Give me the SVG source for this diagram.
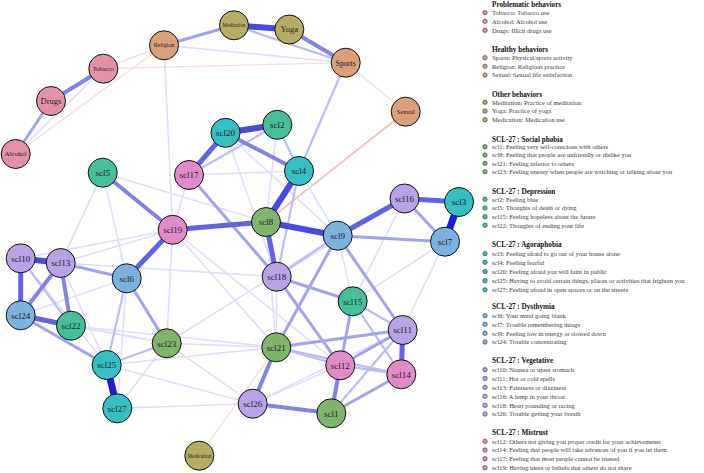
<svg xmlns="http://www.w3.org/2000/svg" width="704" height="473" viewBox="0 0 704 473">
<style>
.e1{stroke:#1a1ade;stroke-width:7}
.e2{stroke:#4848e2;stroke-width:6}
.e3{stroke:#6262e6;stroke-width:5}
.e4{stroke:#8282eb;stroke-width:4}
.e5{stroke:#a2a2f1;stroke-width:3}
.e6{stroke:#bcbcf5;stroke-width:2.2}
.e7{stroke:#dedefa;stroke-width:1.6}
.r1{stroke:#f2c2c2;stroke-width:1.8}
.r2{stroke:#f7dada;stroke-width:1.3}
line{stroke-linecap:butt;fill:none}
.n circle{stroke:#111;stroke-width:1}
.n text{font-family:"Liberation Serif",serif;fill:#222;text-anchor:middle}
.prob{fill:#e391a6}.heal{fill:#dba07a}.oth{fill:#b4ad62}
.soc{fill:#7db56a}.dep{fill:#45bf9a}.ago{fill:#35bfc4}
.dys{fill:#7ab2e0}.veg{fill:#b9a2e6}.mis{fill:#e18bcb}
.lg text{font-family:"Liberation Serif",serif;font-size:6.5px;fill:#3a3a3a}
.lg text.t{font-weight:bold;font-size:7.2px;fill:#111}
.lg circle{stroke:#333;stroke-width:0.6}
</style>
<rect width="704" height="473" fill="#fff"/>
<g id="edges">
<line class="r2" x1="164" y1="45.3" x2="103.3" y2="68.7"/>
<line class="r2" x1="164" y1="45.3" x2="15.7" y2="154"/>
<line class="r2" x1="103.3" y1="68.7" x2="345.7" y2="62.7"/>
<line class="r2" x1="345.7" y1="62.7" x2="405.7" y2="111.7"/>
<line class="r1" x1="405.7" y1="111.7" x2="266" y2="222"/>
<line class="r2" x1="199.3" y1="455.7" x2="276.3" y2="347.3"/>
<line class="e7" x1="164" y1="45.3" x2="345.7" y2="62.7"/>
<line class="e6" x1="234" y1="25.3" x2="345.7" y2="62.7"/>
<line class="e7" x1="103.3" y1="68.7" x2="15.7" y2="154"/>
<line class="e7" x1="164" y1="45.3" x2="172.7" y2="229.8"/>
<line class="e6" x1="345.7" y1="62.7" x2="299" y2="171"/>
<line class="e5" x1="234" y1="25.3" x2="164" y2="45.3"/>
<line class="e2" x1="234" y1="25.3" x2="289.3" y2="29.5"/>
<line class="e4" x1="289.3" y1="29.5" x2="345.7" y2="62.7"/>
<line class="e4" x1="103.3" y1="68.7" x2="51" y2="101"/>
<line class="e5" x1="51" y1="101" x2="15.7" y2="154"/>
<line class="e7" x1="189" y1="175" x2="299" y2="171"/>
<line class="e7" x1="225.5" y1="132.8" x2="276.7" y2="276.7"/>
<line class="e7" x1="189" y1="175" x2="172.7" y2="229.8"/>
<line class="e7" x1="172.7" y1="229.8" x2="60.7" y2="263"/>
<line class="e7" x1="172.7" y1="229.8" x2="166.7" y2="343.3"/>
<line class="e7" x1="126.7" y1="278.3" x2="117.3" y2="408.3"/>
<line class="e7" x1="117.3" y1="408.3" x2="252.7" y2="403.7"/>
<line class="e7" x1="106.7" y1="365" x2="252.7" y2="403.7"/>
<line class="e7" x1="166.7" y1="343.3" x2="276.3" y2="347.3"/>
<line class="e7" x1="166.7" y1="343.3" x2="337.7" y2="235.7"/>
<line class="e7" x1="71" y1="325.7" x2="166.7" y2="343.3"/>
<line class="e7" x1="20.7" y1="315.3" x2="166.7" y2="343.3"/>
<line class="e7" x1="60.7" y1="263" x2="106.7" y2="365"/>
<line class="e7" x1="20.7" y1="258.3" x2="106.7" y2="365"/>
<line class="e7" x1="102.7" y1="172.7" x2="60.7" y2="263"/>
<line class="e7" x1="102.7" y1="172.7" x2="266" y2="222"/>
<line class="e7" x1="102.7" y1="172.7" x2="126.7" y2="278.3"/>
<line class="e7" x1="172.7" y1="229.8" x2="276.3" y2="347.3"/>
<line class="e7" x1="172.7" y1="229.8" x2="340.3" y2="365.3"/>
<line class="e7" x1="266" y1="222" x2="276.3" y2="347.3"/>
<line class="e7" x1="276.7" y1="276.7" x2="276.3" y2="347.3"/>
<line class="e7" x1="337.7" y1="235.7" x2="352.7" y2="301.3"/>
<line class="e7" x1="404.5" y1="198.5" x2="352.7" y2="301.3"/>
<line class="e7" x1="445" y1="241.7" x2="352.7" y2="301.3"/>
<line class="e7" x1="445" y1="241.7" x2="402.7" y2="330"/>
<line class="e7" x1="404.5" y1="198.5" x2="276.7" y2="276.7"/>
<line class="e7" x1="299" y1="171" x2="337.7" y2="235.7"/>
<line class="e7" x1="277.3" y1="124.8" x2="266" y2="222"/>
<line class="e7" x1="225.5" y1="132.8" x2="337.7" y2="235.7"/>
<line class="e7" x1="252.7" y1="403.7" x2="340.3" y2="365.3"/>
<line class="e7" x1="252.7" y1="403.7" x2="402.7" y2="330"/>
<line class="e7" x1="166.7" y1="343.3" x2="252.7" y2="403.7"/>
<line class="e7" x1="106.7" y1="365" x2="276.3" y2="347.3"/>
<line class="e7" x1="60.7" y1="263" x2="276.7" y2="276.7"/>
<line class="e7" x1="20.7" y1="258.3" x2="172.7" y2="229.8"/>
<line class="e7" x1="20.7" y1="315.3" x2="126.7" y2="278.3"/>
<line class="e7" x1="71" y1="325.7" x2="276.3" y2="347.3"/>
<line class="e7" x1="117.3" y1="408.3" x2="166.7" y2="343.3"/>
<line class="e6" x1="126.7" y1="278.3" x2="106.7" y2="365"/>
<line class="e6" x1="20.7" y1="258.3" x2="71" y2="325.7"/>
<line class="e6" x1="106.7" y1="365" x2="166.7" y2="343.3"/>
<line class="e6" x1="277.3" y1="124.8" x2="299" y2="171"/>
<line class="e6" x1="277.3" y1="124.8" x2="189" y2="175"/>
<line class="e6" x1="337.7" y1="235.7" x2="276.7" y2="276.7"/>
<line class="e6" x1="340.3" y1="365.3" x2="401.3" y2="374.3"/>
<line class="e6" x1="331.3" y1="413.3" x2="402.7" y2="330"/>
<line class="e6" x1="352.7" y1="301.3" x2="401.3" y2="374.3"/>
<line class="e6" x1="352.7" y1="301.3" x2="402.7" y2="330"/>
<line class="e6" x1="299" y1="171" x2="276.7" y2="276.7"/>
<line class="e6" x1="276.3" y1="347.3" x2="340.3" y2="365.3"/>
<line class="e6" x1="276.3" y1="347.3" x2="401.3" y2="374.3"/>
<line class="e5" x1="276.3" y1="347.3" x2="337.7" y2="235.7"/>
<line class="e5" x1="276.7" y1="276.7" x2="340.3" y2="365.3"/>
<line class="e5" x1="337.7" y1="235.7" x2="402.7" y2="330"/>
<line class="e5" x1="189" y1="175" x2="276.7" y2="276.7"/>
<line class="e5" x1="276.7" y1="276.7" x2="352.7" y2="301.3"/>
<line class="e5" x1="352.7" y1="301.3" x2="340.3" y2="365.3"/>
<line class="e5" x1="340.3" y1="365.3" x2="402.7" y2="330"/>
<line class="e5" x1="331.3" y1="413.3" x2="401.3" y2="374.3"/>
<line class="e5" x1="276.3" y1="347.3" x2="402.7" y2="330"/>
<line class="e5" x1="60.7" y1="263" x2="126.7" y2="278.3"/>
<line class="e5" x1="126.7" y1="278.3" x2="166.7" y2="343.3"/>
<line class="e5" x1="20.7" y1="315.3" x2="106.7" y2="365"/>
<line class="e5" x1="337.7" y1="235.7" x2="445" y2="241.7"/>
<line class="e5" x1="404.5" y1="198.5" x2="445" y2="241.7"/>
<line class="e4" x1="102.7" y1="172.7" x2="172.7" y2="229.8"/>
<line class="e4" x1="225.5" y1="132.8" x2="299" y2="171"/>
<line class="e4" x1="60.7" y1="263" x2="20.7" y2="315.3"/>
<line class="e4" x1="60.7" y1="263" x2="71" y2="325.7"/>
<line class="e4" x1="276.3" y1="347.3" x2="252.7" y2="403.7"/>
<line class="e4" x1="252.7" y1="403.7" x2="331.3" y2="413.3"/>
<line class="e4" x1="340.3" y1="365.3" x2="331.3" y2="413.3"/>
<line class="e3" x1="337.7" y1="235.7" x2="404.5" y2="198.5"/>
<line class="e3" x1="225.5" y1="132.8" x2="189" y2="175"/>
<line class="e3" x1="266" y1="222" x2="172.7" y2="229.8"/>
<line class="e3" x1="266" y1="222" x2="276.7" y2="276.7"/>
<line class="e3" x1="172.7" y1="229.8" x2="126.7" y2="278.3"/>
<line class="e3" x1="20.7" y1="258.3" x2="20.7" y2="315.3"/>
<line class="e3" x1="20.7" y1="315.3" x2="71" y2="325.7"/>
<line class="e3" x1="402.7" y1="330" x2="401.3" y2="374.3"/>
<line class="e3" x1="404.5" y1="198.5" x2="459" y2="202"/>
<line class="e2" x1="225.5" y1="132.8" x2="277.3" y2="124.8"/>
<line class="e2" x1="299" y1="171" x2="266" y2="222"/>
<line class="e2" x1="266" y1="222" x2="337.7" y2="235.7"/>
<line class="e2" x1="20.7" y1="258.3" x2="60.7" y2="263"/>
<line class="e1" x1="459" y1="202" x2="445" y2="241.7"/>
<line class="e1" x1="106.7" y1="365" x2="117.3" y2="408.3"/>
</g>
<g id="nodes" class="n">
<g id="n-meditation"><circle class="oth" cx="234" cy="25.3" r="14.5"/><text x="234" y="27.1" font-size="5.2">Meditation</text></g>
<g id="n-yoga"><circle class="oth" cx="289.3" cy="29.5" r="14.5"/><text x="289.3" y="32.4" font-size="8.5">Yoga</text></g>
<g id="n-religion"><circle class="heal" cx="164" cy="45.3" r="14.5"/><text x="164" y="47.4" font-size="5.9">Religion</text></g>
<g id="n-sports"><circle class="heal" cx="345.7" cy="62.7" r="14.5"/><text x="345.7" y="65.5" font-size="8">Sports</text></g>
<g id="n-sexual"><circle class="heal" cx="405.7" cy="111.7" r="14.5"/><text x="405.7" y="113.9" font-size="6.5">Sexual</text></g>
<g id="n-tobacco"><circle class="prob" cx="103.3" cy="68.7" r="14.5"/><text x="103.3" y="70.9" font-size="6.3">Tobacco</text></g>
<g id="n-drugs"><circle class="prob" cx="51" cy="101" r="14.5"/><text x="51" y="104" font-size="8.5">Drugs</text></g>
<g id="n-alcohol"><circle class="prob" cx="15.7" cy="154" r="14.5"/><text x="15.7" y="156.3" font-size="6.8">Alcohol</text></g>
<g id="n-medication"><circle class="oth" cx="199.3" cy="455.7" r="14.5"/><text x="199.3" y="457.5" font-size="5.2">Medication</text></g>
<g id="n-scl20"><circle class="ago" cx="225.5" cy="132.8" r="14.5"/><text x="225.5" y="136" font-size="9">scl20</text></g>
<g id="n-scl2"><circle class="dep" cx="277.3" cy="124.8" r="14.5"/><text x="277.3" y="128" font-size="9">scl2</text></g>
<g id="n-scl17"><circle class="mis" cx="189" cy="175" r="14.5"/><text x="189" y="178.2" font-size="9">scl17</text></g>
<g id="n-scl4"><circle class="ago" cx="299" cy="171" r="14.5"/><text x="299" y="174.2" font-size="9">scl4</text></g>
<g id="n-scl5"><circle class="dep" cx="102.7" cy="172.7" r="14.5"/><text x="102.7" y="175.9" font-size="9">scl5</text></g>
<g id="n-scl8"><circle class="soc" cx="266" cy="222" r="14.5"/><text x="266" y="225.2" font-size="9">scl8</text></g>
<g id="n-scl19"><circle class="mis" cx="172.7" cy="229.8" r="14.5"/><text x="172.7" y="233" font-size="9">scl19</text></g>
<g id="n-scl9"><circle class="dys" cx="337.7" cy="235.7" r="14.5"/><text x="337.7" y="238.9" font-size="9">scl9</text></g>
<g id="n-scl16"><circle class="veg" cx="404.5" cy="198.5" r="14.5"/><text x="404.5" y="201.7" font-size="9">scl16</text></g>
<g id="n-scl3"><circle class="ago" cx="459" cy="202" r="14.5"/><text x="459" y="205.2" font-size="9">scl3</text></g>
<g id="n-scl7"><circle class="dys" cx="445" cy="241.7" r="14.5"/><text x="445" y="244.9" font-size="9">scl7</text></g>
<g id="n-scl10"><circle class="veg" cx="20.7" cy="258.3" r="14.5"/><text x="20.7" y="261.5" font-size="9">scl10</text></g>
<g id="n-scl13"><circle class="veg" cx="60.7" cy="263" r="14.5"/><text x="60.7" y="266.2" font-size="9">scl13</text></g>
<g id="n-scl6"><circle class="dys" cx="126.7" cy="278.3" r="14.5"/><text x="126.7" y="281.5" font-size="9">scl6</text></g>
<g id="n-scl18"><circle class="veg" cx="276.7" cy="276.7" r="14.5"/><text x="276.7" y="279.9" font-size="9">scl18</text></g>
<g id="n-scl15"><circle class="dep" cx="352.7" cy="301.3" r="14.5"/><text x="352.7" y="304.5" font-size="9">scl15</text></g>
<g id="n-scl24"><circle class="dys" cx="20.7" cy="315.3" r="14.5"/><text x="20.7" y="318.5" font-size="9">scl24</text></g>
<g id="n-scl22"><circle class="dep" cx="71" cy="325.7" r="14.5"/><text x="71" y="328.9" font-size="9">scl22</text></g>
<g id="n-scl23"><circle class="soc" cx="166.7" cy="343.3" r="14.5"/><text x="166.7" y="346.5" font-size="9">scl23</text></g>
<g id="n-scl21"><circle class="soc" cx="276.3" cy="347.3" r="14.5"/><text x="276.3" y="350.5" font-size="9">scl21</text></g>
<g id="n-scl11"><circle class="veg" cx="402.7" cy="330" r="14.5"/><text x="402.7" y="333.2" font-size="9">scl11</text></g>
<g id="n-scl12"><circle class="mis" cx="340.3" cy="365.3" r="14.5"/><text x="340.3" y="368.5" font-size="9">scl12</text></g>
<g id="n-scl14"><circle class="mis" cx="401.3" cy="374.3" r="14.5"/><text x="401.3" y="377.5" font-size="9">scl14</text></g>
<g id="n-scl25"><circle class="ago" cx="106.7" cy="365" r="14.5"/><text x="106.7" y="368.2" font-size="9">scl25</text></g>
<g id="n-scl27"><circle class="ago" cx="117.3" cy="408.3" r="14.5"/><text x="117.3" y="411.5" font-size="9">scl27</text></g>
<g id="n-scl26"><circle class="veg" cx="252.7" cy="403.7" r="14.5"/><text x="252.7" y="406.9" font-size="9">scl26</text></g>
<g id="n-scl1"><circle class="soc" cx="331.3" cy="413.3" r="14.5"/><text x="331.3" y="416.5" font-size="9">scl1</text></g>
</g>
<g id="legend" class="lg">
<text class="t" x="492" y="6.6">Problematic behaviors</text>
<circle class="prob" cx="485" cy="12.7" r="2.2"/><text x="492" y="14.9">Tobacco: Tobacco use</text>
<circle class="prob" cx="485" cy="21.3" r="2.2"/><text x="492" y="23.5">Alcohol: Alcohol use</text>
<circle class="prob" cx="485" cy="30.3" r="2.2"/><text x="492" y="32.5">Drugs: Illicit drugs use</text>
<text class="t" x="492" y="51.8">Healthy behaviors</text>
<circle class="heal" cx="485" cy="57.7" r="2.2"/><text x="492" y="59.9">Sports: Physical/sports activity</text>
<circle class="heal" cx="485" cy="66.3" r="2.2"/><text x="492" y="68.5">Religion: Religious practice</text>
<circle class="heal" cx="485" cy="75" r="2.2"/><text x="492" y="77.2">Sexual: Sexual life satisfaction</text>
<text class="t" x="492" y="96.5">Other behaviors</text>
<circle class="oth" cx="485" cy="102.3" r="2.2"/><text x="492" y="104.5">Meditation: Practice of meditation</text>
<circle class="oth" cx="485" cy="111" r="2.2"/><text x="492" y="113.2">Yoga: Practice of yoga</text>
<circle class="oth" cx="485" cy="119.7" r="2.2"/><text x="492" y="121.9">Medication: Medication use</text>
<text class="t" x="492" y="141.5">SCL-27 : Social phobia</text>
<circle class="soc" cx="485" cy="146.8" r="2.2"/><text x="492" y="149">scl1: Feeling very self-conscious with others</text>
<circle class="soc" cx="485" cy="155" r="2.2"/><text x="492" y="157.2">scl8: Feeling that people are unfriendly or dislike you</text>
<circle class="soc" cx="485" cy="163.3" r="2.2"/><text x="492" y="165.5">scl21: Feeling inferior to others</text>
<circle class="soc" cx="485" cy="171.7" r="2.2"/><text x="492" y="173.9">scl23: Feeling uneasy when people are watching or talking about you</text>
<text class="t" x="492" y="193.5">SCL-27 : Depression</text>
<circle class="dep" cx="485" cy="199.3" r="2.2"/><text x="492" y="201.5">scl2: Feeling blue</text>
<circle class="dep" cx="485" cy="208" r="2.2"/><text x="492" y="210.2">scl5: Thoughts of death or dying</text>
<circle class="dep" cx="485" cy="216.7" r="2.2"/><text x="492" y="218.9">scl15: Feeling hopeless about the future</text>
<circle class="dep" cx="485" cy="225.3" r="2.2"/><text x="492" y="227.5">scl22: Thoughts of ending your life</text>
<text class="t" x="492" y="247.2">SCL-27 : Agoraphobia</text>
<circle class="ago" cx="485" cy="253.7" r="2.2"/><text x="492" y="255.9">scl3: Feeling afraid to go out of your house alone</text>
<circle class="ago" cx="485" cy="262.3" r="2.2"/><text x="492" y="264.5">scl4: Feeling fearful</text>
<circle class="ago" cx="485" cy="271.5" r="2.2"/><text x="492" y="273.7">scl20: Feeling afraid you will faint in public</text>
<circle class="ago" cx="485" cy="280.8" r="2.2"/><text x="492" y="283">scl25: Having to avoid certain things, places or activities that frighten you</text>
<circle class="ago" cx="485" cy="289.8" r="2.2"/><text x="492" y="292">scl27: Feeling afraid in open spaces or on the streets</text>
<text class="t" x="492" y="308.5">SCL-27 : Dysthymia</text>
<circle class="dys" cx="485" cy="315.7" r="2.2"/><text x="492" y="317.9">scl6: Your mind going blank</text>
<circle class="dys" cx="485" cy="324.3" r="2.2"/><text x="492" y="326.5">scl7: Trouble remembering things</text>
<circle class="dys" cx="485" cy="333.3" r="2.2"/><text x="492" y="335.5">scl9: Feeling low in energy or slowed down</text>
<circle class="dys" cx="485" cy="342" r="2.2"/><text x="492" y="344.2">scl24: Trouble concentrating</text>
<text class="t" x="492" y="362.8">SCL-27 : Vegetative</text>
<circle class="veg" cx="485" cy="369.7" r="2.2"/><text x="492" y="371.9">scl10: Nausea or upset stomach</text>
<circle class="veg" cx="485" cy="378.5" r="2.2"/><text x="492" y="380.7">scl11: Hot or cold spells</text>
<circle class="veg" cx="485" cy="387.3" r="2.2"/><text x="492" y="389.5">scl13: Faintness or dizziness</text>
<circle class="veg" cx="485" cy="396.3" r="2.2"/><text x="492" y="398.5">scl16: A lump in your throat</text>
<circle class="veg" cx="485" cy="405.3" r="2.2"/><text x="492" y="407.5">scl18: Heart pounding or racing</text>
<circle class="veg" cx="485" cy="414" r="2.2"/><text x="492" y="416.2">scl26: Trouble getting your breath</text>
<text class="t" x="492" y="434.8">SCL-27 : Mistrust</text>
<circle class="mis" cx="485" cy="441.3" r="2.2"/><text x="492" y="443.5">scl12: Others not giving you proper credit for your achievements</text>
<circle class="mis" cx="485" cy="450" r="2.2"/><text x="492" y="452.2">scl14: Feeling that people will take advances of you if you let them</text>
<circle class="mis" cx="485" cy="458.7" r="2.2"/><text x="492" y="460.9">scl17: Feeling that most people cannot be trusted</text>
<circle class="mis" cx="485" cy="467.7" r="2.2"/><text x="492" y="469.9">scl19: Having ideas or beliefs that others do not share</text>
</g>
</svg>
